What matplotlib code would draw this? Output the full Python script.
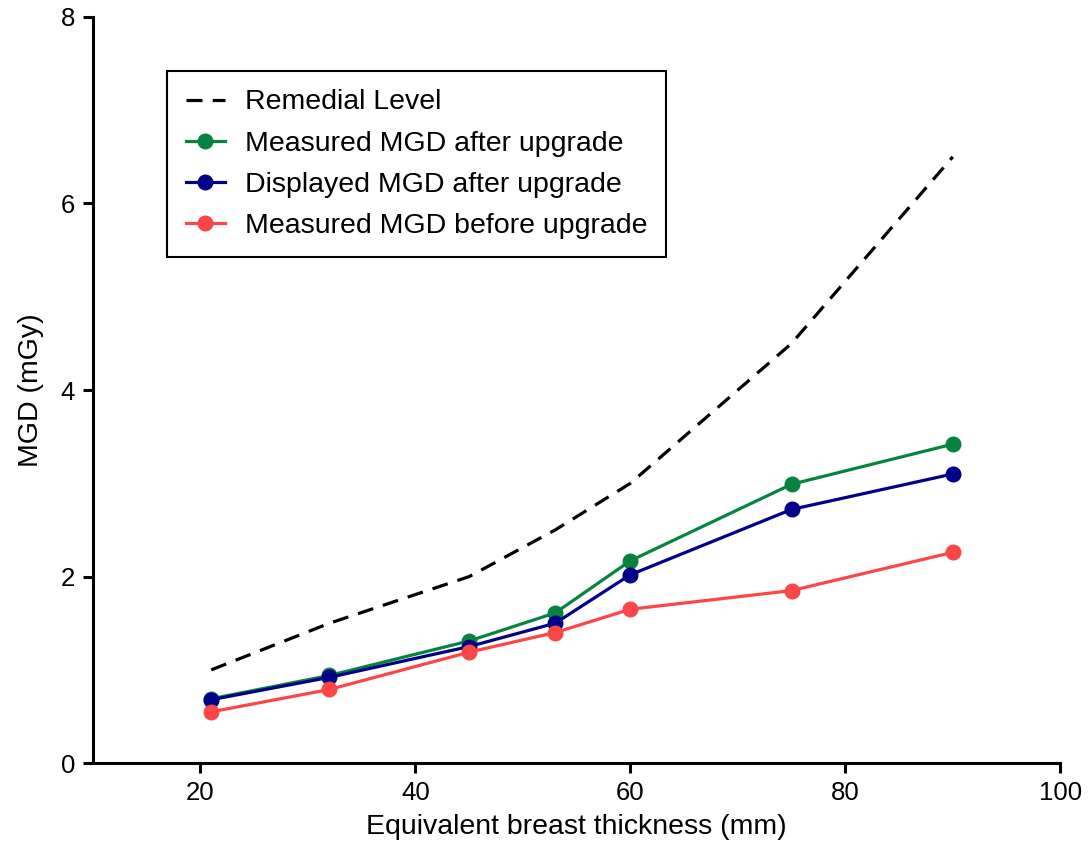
import matplotlib
matplotlib.use("Agg")
import matplotlib.pyplot as plt

plt.rcParams['font.family'] = ['Liberation Sans', 'DejaVu Sans']

# breast thickness (mm)
thickness = [21, 32, 45, 53, 60, 75, 90]

remedial = [1.0, 1.5, 2.0, 2.5, 3.0, 4.5, 6.5]
measured_after = [0.69, 0.94, 1.31, 1.61, 2.17, 2.99, 3.42]
displayed_after = [0.68, 0.92, 1.25, 1.50, 2.02, 2.72, 3.10]
measured_before = [0.55, 0.79, 1.19, 1.40, 1.65, 1.85, 2.26]

green = '#08833f'
blue = '#000088'
red = '#fa4646'

fig = plt.figure(figsize=(10.88, 8.47), dpi=100)
ax = fig.add_axes([0.0855, 0.099, 0.889, 0.881])

ax.plot(thickness, remedial, color='black', lw=2.3, ls=(0, (5, 3.2)),
        label='Remedial Level')
ax.plot(thickness, measured_after, color=green, lw=2.3, marker='o', ms=10.5,
        label='Measured MGD after upgrade')
ax.plot(thickness, displayed_after, color=blue, lw=2.3, marker='o', ms=10.5,
        label='Displayed MGD after upgrade')
ax.plot(thickness, measured_before, color=red, lw=2.3, marker='o', ms=10.5,
        label='Measured MGD before upgrade')

ax.set_xlim(10, 100)
ax.set_ylim(0, 8)
ax.set_xticks([20, 40, 60, 80, 100])
ax.set_yticks([0, 2, 4, 6, 8])

for s in ['top', 'right']:
    ax.spines[s].set_visible(False)
for s in ['left', 'bottom']:
    ax.spines[s].set_linewidth(2.2)
ax.tick_params(width=2.2, length=7, labelsize=18.5, pad=6)

ax.set_xlabel('Equivalent breast thickness (mm)', fontsize=20.5, labelpad=6)
ax.set_ylabel('MGD (mGy)', fontsize=20.5, labelpad=12)

leg = ax.legend(loc='upper left', bbox_to_anchor=(0.0765, 0.9276),
                borderaxespad=0, fontsize=20.5,
                fancybox=False, edgecolor='black', framealpha=1,
                handlelength=1.4, handletextpad=0.7, borderpad=0.65,
                labelspacing=0.53)
leg.get_frame().set_linewidth(1.5)

fig.savefig('out.png', dpi=100)
